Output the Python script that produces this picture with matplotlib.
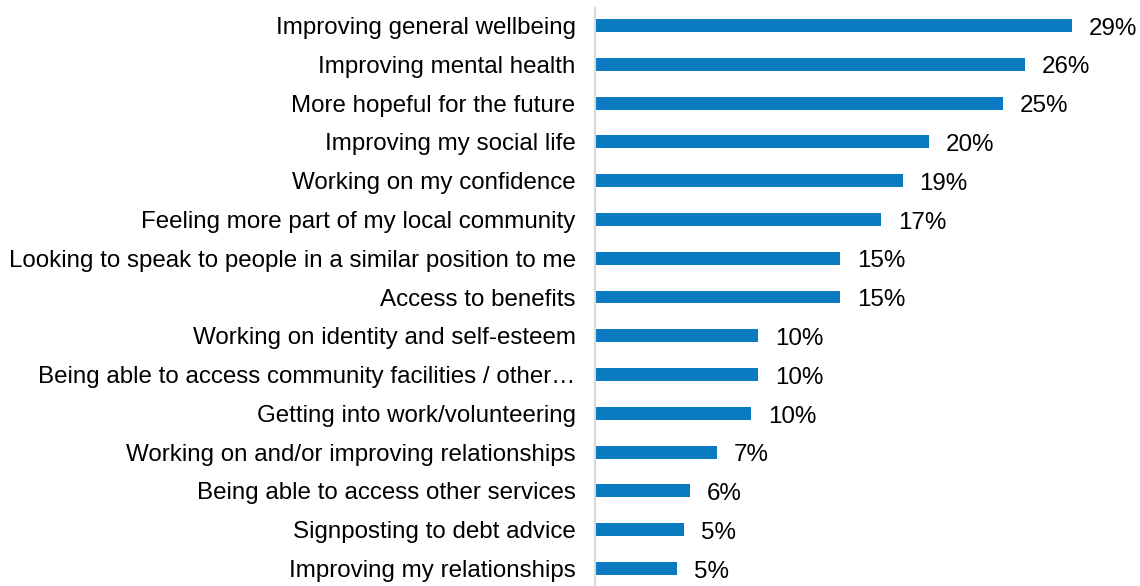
import matplotlib.pyplot as plt

plt.rcParams['font.family'] = ['Liberation Sans', 'DejaVu Sans']

# Reasons / benefits, top to bottom
categories = [
    "Improving general wellbeing",
    "Improving mental health",
    "More hopeful for the future",
    "Improving my social life",
    "Working on my confidence",
    "Feeling more part of my local community",
    "Looking to speak to people in a similar position to me",
    "Access to benefits",
    "Working on identity and self-esteem",
    "Being able to access community facilities / other\u2026",
    "Getting into work/volunteering",
    "Working on and/or improving relationships",
    "Being able to access other services",
    "Signposting to debt advice",
    "Improving my relationships",
]
# share of respondents (%)
values = [29.0, 26.1, 24.8, 20.3, 18.7, 17.4, 14.9, 14.9, 9.9, 9.9, 9.5, 7.4, 5.8, 5.4, 5.0]

fs = 17.4

fig = plt.figure(figsize=(11.4, 5.86), dpi=100)
ax = fig.add_axes([595 / 1140, 0.0, 1 - 595 / 1140, 1 - 8 / 586])

y = list(range(len(categories)))
bars = ax.barh(y, values, height=0.335, color="#0A7BC1")

# value labels at the end of each bar
for b, v in zip(bars, values):
    ax.annotate(f"{v:.0f}%", (b.get_width(), b.get_y() + b.get_height() / 2),
                xytext=(12, -0.5), textcoords="offset points",
                va="center_baseline", ha="left", fontsize=fs, color="#000000")

ax.set_yticks(y)
ax.set_yticklabels(categories, fontsize=fs, color="#000000")
ax.tick_params(axis="y", length=0, pad=14)
ax.set_ylim(len(categories) - 0.55, -0.45)
ax.set_xlim(0, 33.1)
ax.set_xticks([])

for s in ["top", "right", "bottom"]:
    ax.spines[s].set_visible(False)
ax.spines["left"].set_color("#D9D9D9")
ax.spines["left"].set_linewidth(1.5)

fig.savefig("out.png", dpi=100)
